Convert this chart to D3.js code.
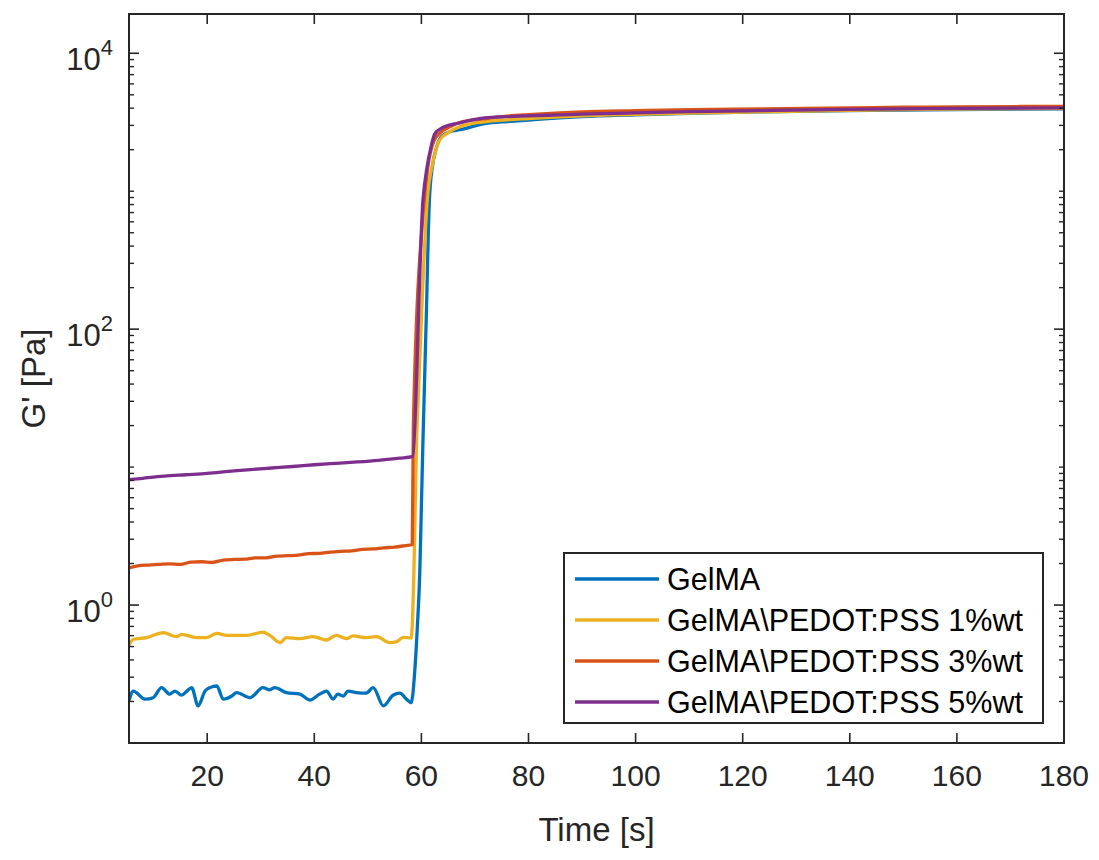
<!DOCTYPE html>
<html>
<head>
<meta charset="utf-8">
<script src="https://cdn.jsdelivr.net/npm/d3@7"></script>
<style>
  body { margin: 0; background: #fff; }
  svg { display: block; font-family: "Liberation Sans", Arial, Helvetica, sans-serif; }
</style>
</head>
<body>
<svg id="chart"></svg>
<script>
// series names and colours (MATLAB default order)
var seriesNames = ["GelMA", "GelMA\\PEDOT:PSS 1%wt", "GelMA\\PEDOT:PSS 3%wt", "GelMA\\PEDOT:PSS 5%wt"];
var seriesColors = ["#0072BD", "#EDB120", "#D95319", "#7E2F8E"];

// time [s] and G' [Pa] for each sample
var gelmaTime = [5.4, 6.2, 8.4, 9.9, 11.5, 13.0, 14.0, 15.2, 16.2, 17.1, 18.3, 19.6, 20.5, 21.8, 23.0, 24.6, 25.5, 28.0,
  30.4, 31.7, 32.6, 34.8, 37.3, 39.2, 41.0, 42.3, 43.5, 44.4, 45.4, 46.3, 47.9, 49.7, 51.0, 52.9, 54.7, 56.0, 57.2, 58.1,
  58.75, 59.25, 59.7, 60.0, 60.3, 60.9, 61.5, 62.1, 62.7, 63.7, 65.3, 67.15, 71.8, 76, 80, 85.8, 90, 100, 110, 123.1,
  140, 150, 160, 180];
var gelmaValue = [0.202, 0.238, 0.208, 0.213, 0.252, 0.226, 0.238, 0.222, 0.238, 0.252, 0.186, 0.238, 0.252, 0.259, 0.208,
  0.219, 0.232, 0.213, 0.252, 0.243, 0.252, 0.232, 0.226, 0.205, 0.226, 0.238, 0.208, 0.226, 0.219, 0.238, 0.232, 0.230,
  0.252, 0.186, 0.222, 0.230, 0.208, 0.196,
  0.326, 0.70, 1.72, 5.18, 15.8, 117, 867, 1550, 1995, 2480, 2700, 2790, 3085, 3200, 3280, 3396, 3470, 3580, 3670, 3757,
  3840, 3880, 3910, 3953];

var pedot1Time = [5.4, 6.2, 8.7, 11.8, 14.3, 15.2, 18.0, 19.9, 21.8, 23.6, 27.4, 30.4, 31.7, 33.6, 34.8, 37.3, 39.8, 42.3,
  44.1, 46.0, 47.2, 49.7, 51.6, 54.1, 55.3, 56.6, 58.1,
  58.6, 59.1, 59.4, 61.1, 62.2, 63.4, 65.3, 67.15, 71.8, 76, 80, 85.8, 90, 100, 110, 123.1, 140, 150, 160, 180];
var pedot1Value = [0.511, 0.565, 0.581, 0.631, 0.590, 0.614, 0.581, 0.581, 0.624, 0.603, 0.603, 0.637, 0.603, 0.535, 0.581,
  0.571, 0.590, 0.558, 0.603, 0.571, 0.597, 0.581, 0.590, 0.535, 0.540, 0.584, 0.577,
  1.72, 15.8, 31, 870, 1650, 2350, 2700, 2933, 3184, 3290, 3360, 3457, 3520, 3610, 3680, 3757, 3860, 3900, 3940, 3984];

var pedot3Time = [5.4, 7, 9, 11, 13, 15, 17, 19, 21, 23, 25, 27, 29, 31, 33, 35, 37, 39, 41, 43, 45, 47, 49, 51, 53, 55, 57, 58.3,
  58.5, 60.4, 61.2, 62.3, 63.5, 65.5, 67.15, 71.8, 76, 80, 85.8, 90, 100, 110, 123.1, 140, 150, 160, 180];
var pedot3Value = [1.86, 1.92, 1.95, 1.97, 1.99, 1.97, 2.05, 2.06, 2.04, 2.12, 2.14, 2.15, 2.20, 2.20, 2.26, 2.28, 2.30, 2.36,
  2.37, 2.42, 2.45, 2.47, 2.53, 2.55, 2.60, 2.63, 2.70, 2.75,
  20, 750, 1500, 2300, 2650, 2950, 3150, 3350, 3500, 3590, 3700, 3760, 3840, 3900, 3950, 4020, 4060, 4090, 4120];

var pedot5Time = [5.4, 8, 12, 16, 20, 24, 28, 32, 36, 40, 44, 48, 52, 56, 58.3,
  60.3, 61.0, 61.8, 62.5, 64, 67.15, 71.8, 76, 80, 85.8, 90, 100, 110, 123.1, 140, 150, 160, 180];
var pedot5Value = [8.1, 8.3, 8.6, 8.8, 9.0, 9.3, 9.6, 9.85, 10.1, 10.4, 10.65, 10.9, 11.2, 11.6, 11.9,
  870, 1450, 2100, 2600, 2900, 3133, 3396, 3470, 3520, 3575, 3620, 3700, 3770, 3840, 3920, 3950, 3980, 4018];

// axis ticks
var xTicks = [20, 40, 60, 80, 100, 120, 140, 160, 180];
var yTickExponents = [0, 2, 4];

var seriesTimes = [gelmaTime, pedot1Time, pedot3Time, pedot5Time];
var seriesValues = [gelmaValue, pedot1Value, pedot3Value, pedot5Value];

var width = 1099, height = 860;
var margin = { top: 14, right: 35, bottom: 117, left: 129 };
var plotW = width - margin.left - margin.right;
var plotH = height - margin.top - margin.bottom;
var ink = "#262626";

var svg = d3.select("#chart").attr("width", width).attr("height", height);
var g = svg.append("g").attr("transform", "translate(" + margin.left + "," + margin.top + ")");

var x = d3.scaleLinear().domain([5.4, 180]).range([0, plotW]);
var y = d3.scaleLog().domain([0.1, 19260]).range([plotH, 0]);

// minor ticks on the log axis: 1..9 x 10^k, skipping the labelled decades
var minorTicks = [];
for (var e = -1; e <= 4; e++) {
  for (var m = 1; m <= 9; m++) {
    var v = m * Math.pow(10, e);
    if (v < 0.1 || v > 19260) continue;
    if (m === 1 && yTickExponents.indexOf(e) >= 0) continue;
    minorTicks.push(v);
  }
}

// data lines
var line = d3.line()
  .curve(d3.curveMonotoneX)
  .x(function(d) { return x(d[0]); })
  .y(function(d) { return y(d[1]); });

var clip = svg.append("defs").append("clipPath").attr("id", "plotclip");
clip.append("rect").attr("width", plotW).attr("height", plotH);

seriesNames.forEach(function(name, i) {
  var pts = seriesTimes[i].map(function(t, j) { return [t, seriesValues[i][j]]; });
  g.append("path")
    .datum(pts)
    .attr("clip-path", "url(#plotclip)")
    .attr("fill", "none")
    .attr("stroke", seriesColors[i])
    .attr("stroke-width", 3.3)
    .attr("stroke-linejoin", "round")
    .attr("d", line);
});

// ticks (inward, on all four sides)
var major = 10, minor = 5;
xTicks.forEach(function(t) {
  g.append("line").attr("x1", x(t)).attr("x2", x(t)).attr("y1", plotH).attr("y2", plotH - major)
    .attr("stroke", ink).attr("stroke-width", 1.6);
  g.append("line").attr("x1", x(t)).attr("x2", x(t)).attr("y1", 0).attr("y2", major)
    .attr("stroke", ink).attr("stroke-width", 1.6);
  g.append("text").attr("x", x(t)).attr("y", plotH + 43)
    .attr("text-anchor", "middle").attr("font-size", 30).attr("fill", ink).text(t);
});

yTickExponents.forEach(function(e) {
  var yy = y(Math.pow(10, e));
  g.append("line").attr("x1", 0).attr("x2", major).attr("y1", yy).attr("y2", yy)
    .attr("stroke", ink).attr("stroke-width", 1.6);
  g.append("line").attr("x1", plotW).attr("x2", plotW - major).attr("y1", yy).attr("y2", yy)
    .attr("stroke", ink).attr("stroke-width", 1.6);
  var lab = g.append("text").attr("x", -16).attr("y", yy + 17)
    .attr("text-anchor", "end").attr("font-size", 31).attr("fill", ink);
  lab.append("tspan").text("10");
  lab.append("tspan").attr("dy", -15).attr("font-size", 22).text(e);
});

minorTicks.forEach(function(v) {
  var yy = y(v);
  g.append("line").attr("x1", 0).attr("x2", minor).attr("y1", yy).attr("y2", yy)
    .attr("stroke", ink).attr("stroke-width", 1.4);
  g.append("line").attr("x1", plotW).attr("x2", plotW - minor).attr("y1", yy).attr("y2", yy)
    .attr("stroke", ink).attr("stroke-width", 1.4);
});

// box
g.append("rect").attr("width", plotW).attr("height", plotH)
  .attr("fill", "none").attr("stroke", ink).attr("stroke-width", 2);

// axis labels
g.append("text").attr("x", plotW / 2).attr("y", plotH + 98)
  .attr("text-anchor", "middle").attr("font-size", 33).attr("fill", ink).text("Time [s]");
g.append("text")
  .attr("transform", "translate(" + (-84) + "," + (plotH / 2) + ") rotate(-90)")
  .attr("text-anchor", "middle").attr("font-size", 33).attr("fill", ink).text("G' [Pa]");

// legend
var legW = 479, legH = 170, rowH = 41;
var legX = plotW - 21 - legW, legY = plotH - 20 - legH;
var leg = g.append("g").attr("transform", "translate(" + legX + "," + legY + ")");
leg.append("rect").attr("width", legW).attr("height", legH)
  .attr("fill", "#fff").attr("stroke", ink).attr("stroke-width", 2);
seriesNames.forEach(function(name, i) {
  var cy = 26 + i * rowH;
  leg.append("line").attr("x1", 11).attr("x2", 95).attr("y1", cy).attr("y2", cy)
    .attr("stroke", seriesColors[i]).attr("stroke-width", 3.5);
  leg.append("text").attr("x", 103).attr("y", cy + 11)
    .attr("font-size", 30.5).attr("fill", "#000").text(name);
});
</script>
</body>
</html>
